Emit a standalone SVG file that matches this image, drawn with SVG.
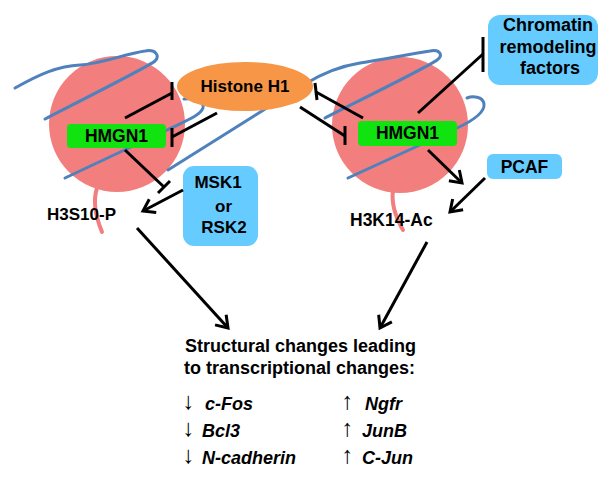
<svg xmlns="http://www.w3.org/2000/svg" width="612" height="477" viewBox="0 0 612 477">
<defs>
<style>
.t{font-family:"Liberation Sans",Arial,sans-serif;font-weight:bold;fill:#000;}
.it{font-family:"Liberation Sans",Arial,sans-serif;font-weight:bold;font-style:italic;font-size:18px;fill:#000;}
.ar{font-family:"Liberation Sans","DejaVu Sans",sans-serif;font-weight:normal;font-size:24px;fill:#000;text-anchor:middle;}
.nuc{fill:#F37E7E;}
.tail{fill:none;stroke:#F37E7E;stroke-width:4;stroke-linecap:round;}
.dna{fill:none;stroke:#4F81BD;stroke-width:3;stroke-linecap:round;}
.hm{fill:#11E311;}
.bx{fill:#66CCFF;}
.c{fill:none;stroke:#000;stroke-width:3;}
.ca{fill:none;stroke:#000;stroke-width:3;marker-end:url(#arr);}
</style>
<marker id="arr" markerWidth="16" markerHeight="16" refX="12" refY="8" orient="auto" markerUnits="userSpaceOnUse" overflow="visible">
<path d="M1,0.5 L12,8 L1,15.5" fill="none" stroke="#000" stroke-width="3"/>
</marker>
</defs>
<rect width="612" height="477" fill="#fff"/>

<g id="nucleosome-left">
<path class="tail" d="M97,188 C93,200 95,215 102,232"/>
<circle class="nuc" cx="117" cy="124" r="68"/>
</g>
<g id="nucleosome-right">
<path class="tail" d="M393,190 C391,205 396,218 403,230"/>
<circle class="nuc" cx="400" cy="125" r="68"/>
</g>

<g id="dna">
<path class="dna" d="M15,88 C40,74 58,66 80,65 C100,64 125,54 145,51 C156,49 160,56 155,61 C148,67 60,111 45,119"/>
<path class="dna" d="M65,178 L167,130 C185,121 200,116 203,108 C205,101 194,98 184,99"/>
<path class="dna" d="M168,170 L305,84 C318,76 335,67 360,63 C385,59 410,54 430,51 C441,49 443,56 437,60 C430,66 340,110 325,118"/>
<path class="dna" d="M348,178 L457,128 C470,122 485,113 484,104 C483,96 472,96 467,98"/>
</g>

<g id="histone-h1">
<ellipse cx="245" cy="86.5" rx="68" ry="24.5" fill="#F79646"/>
<text class="t" x="245" y="92" font-size="17" text-anchor="middle">Histone H1</text>
</g>

<g id="hmgn1-left">
<rect class="hm" x="67" y="124" width="99" height="24" rx="4"/>
<text class="t" x="116.5" y="142" font-size="17.5" text-anchor="middle">HMGN1</text>
</g>
<g id="hmgn1-right">
<rect class="hm" x="358" y="121" width="99" height="25" rx="4"/>
<text class="t" x="407.5" y="139" font-size="17.5" text-anchor="middle">HMGN1</text>
</g>

<g id="chromatin-remodeling">
<rect class="bx" x="488" y="15" width="110" height="70" rx="12"/>
<text class="t" x="548" y="31" font-size="18" text-anchor="middle">Chromatin</text>
<text class="t" x="548" y="53" font-size="18" text-anchor="middle">remodeling</text>
<text class="t" x="550" y="74" font-size="18" text-anchor="middle">factors</text>
</g>

<g id="pcaf">
<rect class="bx" x="487" y="154" width="75" height="25" rx="6"/>
<text class="t" x="524.5" y="173" font-size="17.5" text-anchor="middle">PCAF</text>
</g>

<g id="msk-rsk">
<rect class="bx" x="183" y="166" width="75" height="80" rx="11"/>
<text class="t" x="218" y="188" font-size="17" text-anchor="middle">MSK1</text>
<text class="t" x="223.5" y="212" font-size="17" text-anchor="middle">or</text>
<text class="t" x="224" y="233" font-size="17" text-anchor="middle">RSK2</text>
</g>

<g id="h3s10p">
<text class="t" x="47" y="220" font-size="17">H3S10-P</text>
</g>
<g id="h3k14ac">
<text class="t" x="350" y="226" font-size="17.5">H3K14-Ac</text>
</g>

<g id="connectors">
<line class="c" x1="125" y1="118" x2="172" y2="93"/>
<line class="c" x1="172" y1="82" x2="172" y2="100"/>
<line class="c" x1="217" y1="113" x2="172" y2="137"/>
<line class="c" x1="172" y1="128" x2="172" y2="147"/>
<line class="c" x1="125" y1="150" x2="164" y2="187"/>
<line class="c" x1="158" y1="193" x2="170" y2="181"/>
<line class="c" x1="363" y1="118" x2="316" y2="92"/>
<line class="c" x1="315" y1="83" x2="317" y2="100"/>
<line class="c" x1="300" y1="107" x2="345" y2="136"/>
<line class="c" x1="345" y1="126" x2="345" y2="145"/>
<line class="c" x1="418" y1="113" x2="483" y2="54"/>
<line class="c" x1="483" y1="37" x2="483" y2="72"/>
<line class="ca" x1="183" y1="190" x2="143" y2="211"/>
<line class="ca" x1="428" y1="150" x2="462" y2="183"/>
<line class="ca" x1="485" y1="178" x2="450" y2="212"/>
<line class="ca" x1="137" y1="228" x2="228" y2="328"/>
<line class="ca" x1="427" y1="242" x2="380" y2="328"/>
</g>

<g id="outcome">
<text class="t" x="185" y="352" font-size="18">Structural changes leading</text>
<text class="t" x="184" y="374" font-size="18">to transcriptional changes:</text>
<text class="ar" x="188.5" y="409">↓</text>
<text class="it" x="205" y="410">c-Fos</text>
<text class="ar" x="188.5" y="436">↓</text>
<text class="it" x="202" y="437">Bcl3</text>
<text class="ar" x="188.5" y="463">↓</text>
<text class="it" x="202" y="464">N-cadherin</text>
<text class="ar" x="347.5" y="409">↑</text>
<text class="it" x="365" y="410">Ngfr</text>
<text class="ar" x="347.5" y="436">↑</text>
<text class="it" x="362" y="437">JunB</text>
<text class="ar" x="347.5" y="463">↑</text>
<text class="it" x="362" y="464">C-Jun</text>
</g>
</svg>
